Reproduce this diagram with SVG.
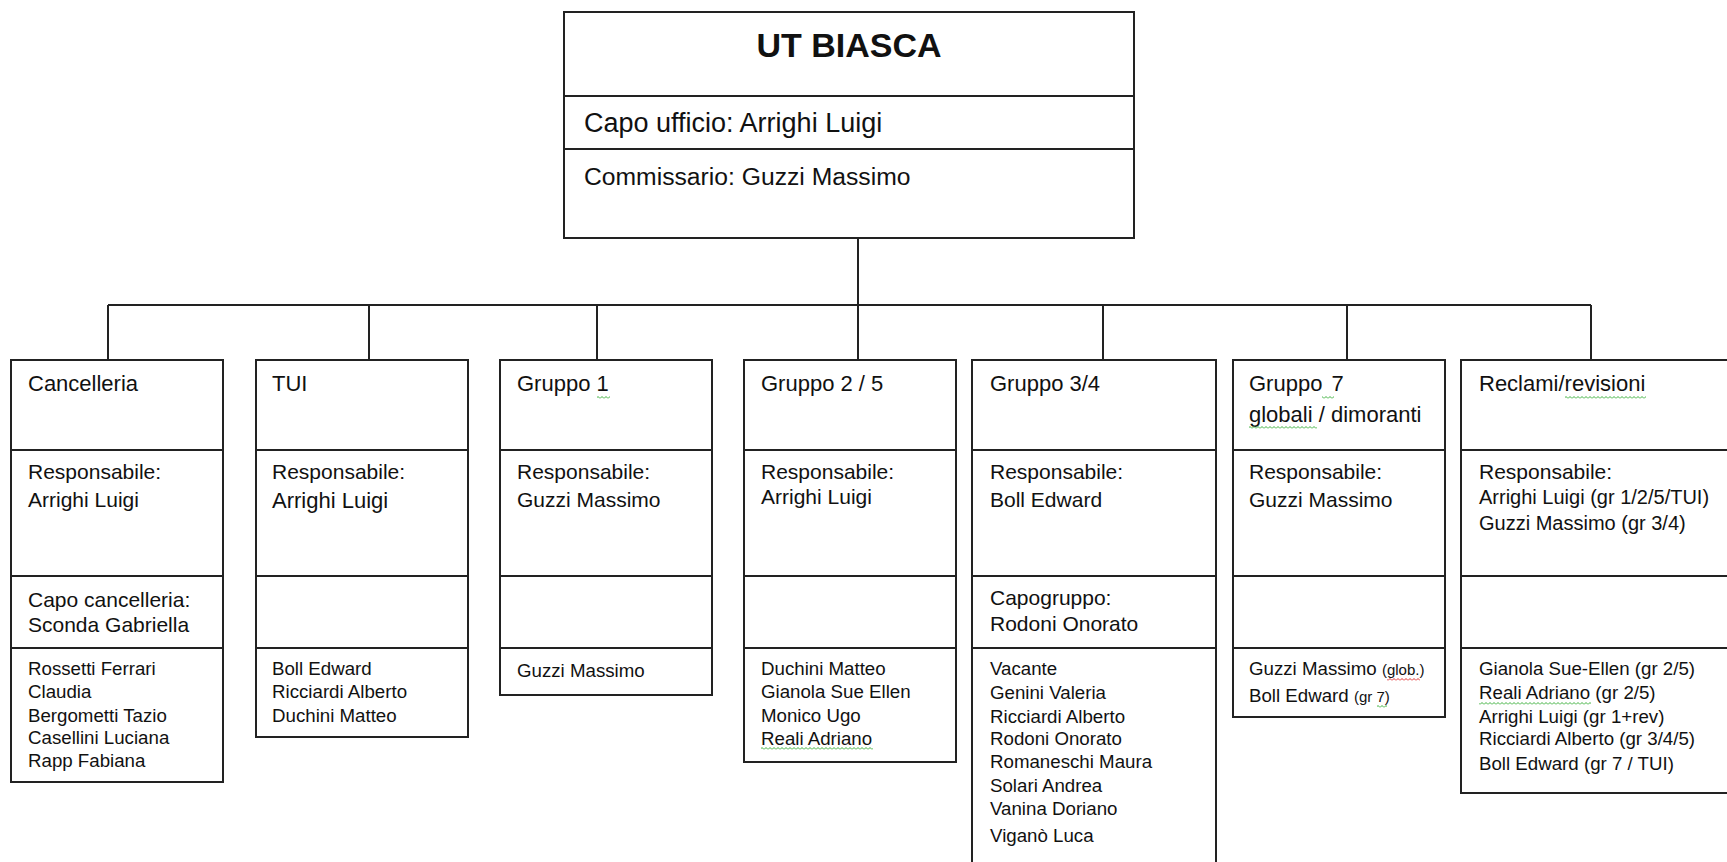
<svg xmlns="http://www.w3.org/2000/svg" width="1727" height="862" viewBox="0 0 1727 862">
<style>
.box{fill:#fff;stroke:#222;stroke-width:2}
.dv{stroke:#222;stroke-width:2}
.conn{fill:none;stroke:#222;stroke-width:2}
text{font-family:"Liberation Sans",Arial,sans-serif;fill:#111}
.h{font-size:22px}
.r{font-size:21px}
.l{font-size:18.7px}
.s{font-size:15px}
</style>
<defs>
<pattern id="sqG" width="4" height="3" patternUnits="userSpaceOnUse"><path d="M0 2.5 L2 0.5 L4 2.5" fill="none" stroke="#3cb03c" stroke-width="1"/></pattern>
<pattern id="sqR" width="4" height="3" patternUnits="userSpaceOnUse"><path d="M0 2.5 L2 0.5 L4 2.5" fill="none" stroke="#e03030" stroke-width="1"/></pattern>
</defs>
<rect width="1727" height="862" fill="#fff"/>

<g id="connectors">
<path class="conn" d="M858 239 V305 M108 305 H1591 M108 305 V360 M369 305 V360 M597 305 V360 M858 305 V360 M1103 305 V360 M1347 305 V360 M1591 305 V360"/>
</g>

<g id="ut-biasca">
<rect class="box" x="564" y="12" width="570" height="226"/>
<line class="dv" x1="564" y1="96" x2="1134" y2="96"/>
<line class="dv" x1="564" y1="149" x2="1134" y2="149"/>
<text x="849" y="57" font-size="34" font-weight="bold" text-anchor="middle">UT BIASCA</text>
<text x="584" y="132" font-size="27">Capo ufficio: Arrighi Luigi</text>
<text x="584" y="185" font-size="24.7">Commissario: Guzzi Massimo</text>
</g>

<g id="cancelleria">
<rect class="box" x="11" y="360" width="212" height="422"/>
<line class="dv" x1="11" y1="450" x2="223" y2="450"/>
<line class="dv" x1="11" y1="576" x2="223" y2="576"/>
<line class="dv" x1="11" y1="648" x2="223" y2="648"/>
<text class="h" x="28" y="391">Cancelleria</text>
<text class="r" x="28" y="479">Responsabile:</text>
<text class="r" x="28" y="507">Arrighi Luigi</text>
<text class="r" x="28" y="607">Capo cancelleria:</text>
<text class="r" x="28" y="632">Sconda Gabriella</text>
<text class="l" x="28" y="675">Rossetti Ferrari</text>
<text class="l" x="28" y="698">Claudia</text>
<text class="l" x="28" y="722">Bergometti Tazio</text>
<text class="l" x="28" y="744">Casellini Luciana</text>
<text class="l" x="28" y="767">Rapp Fabiana</text>
</g>

<g id="tui">
<rect class="box" x="256" y="360" width="212" height="377"/>
<line class="dv" x1="256" y1="450" x2="468" y2="450"/>
<line class="dv" x1="256" y1="576" x2="468" y2="576"/>
<line class="dv" x1="256" y1="648" x2="468" y2="648"/>
<text class="h" x="272" y="391">TUI</text>
<text class="r" x="272" y="479">Responsabile:</text>
<text x="272" y="508" font-size="22">Arrighi Luigi</text>
<text class="l" x="272" y="675">Boll Edward</text>
<text class="l" x="272" y="698">Ricciardi Alberto</text>
<text class="l" x="272" y="722">Duchini Matteo</text>
</g>

<g id="gruppo-1">
<rect class="box" x="500" y="360" width="212" height="335"/>
<line class="dv" x1="500" y1="450" x2="712" y2="450"/>
<line class="dv" x1="500" y1="576" x2="712" y2="576"/>
<line class="dv" x1="500" y1="648" x2="712" y2="648"/>
<text class="h" x="517" y="391">Gruppo 1</text>
<rect x="597" y="396" width="13" height="3" fill="url(#sqG)"/>
<text class="r" x="517" y="479">Responsabile:</text>
<text class="r" x="517" y="507">Guzzi Massimo</text>
<text class="l" x="517" y="677">Guzzi Massimo</text>
</g>

<g id="gruppo-2-5">
<rect class="box" x="744" y="360" width="212" height="402"/>
<line class="dv" x1="744" y1="450" x2="956" y2="450"/>
<line class="dv" x1="744" y1="576" x2="956" y2="576"/>
<line class="dv" x1="744" y1="648" x2="956" y2="648"/>
<text class="h" x="761" y="391">Gruppo 2 / 5</text>
<text class="r" x="761" y="479">Responsabile:</text>
<text class="r" x="761" y="504">Arrighi Luigi</text>
<text class="l" x="761" y="675">Duchini Matteo</text>
<text class="l" x="761" y="698">Gianola Sue Ellen</text>
<text class="l" x="761" y="722">Monico Ugo</text>
<text class="l" x="761" y="745">Reali Adriano</text>
<rect x="761" y="747" width="112" height="3" fill="url(#sqG)"/>
</g>

<g id="gruppo-3-4">
<rect class="box" x="972" y="360" width="244" height="520"/>
<line class="dv" x1="972" y1="450" x2="1216" y2="450"/>
<line class="dv" x1="972" y1="576" x2="1216" y2="576"/>
<line class="dv" x1="972" y1="648" x2="1216" y2="648"/>
<text class="h" x="990" y="391">Gruppo 3/4</text>
<text class="r" x="990" y="479">Responsabile:</text>
<text class="r" x="990" y="507">Boll Edward</text>
<text class="r" x="990" y="605">Capogruppo:</text>
<text class="r" x="990" y="631">Rodoni Onorato</text>
<text class="l" x="990" y="675">Vacante</text>
<text class="l" x="990" y="699">Genini Valeria</text>
<text class="l" x="990" y="723">Ricciardi Alberto</text>
<text class="l" x="990" y="745">Rodoni Onorato</text>
<text class="l" x="990" y="768">Romaneschi Maura</text>
<text class="l" x="990" y="792">Solari Andrea</text>
<text class="l" x="990" y="815">Vanina Doriano</text>
<text class="l" x="990" y="842">Viganò Luca</text>
</g>

<g id="gruppo-7">
<rect class="box" x="1233" y="360" width="212" height="357"/>
<line class="dv" x1="1233" y1="450" x2="1445" y2="450"/>
<line class="dv" x1="1233" y1="576" x2="1445" y2="576"/>
<line class="dv" x1="1233" y1="648" x2="1445" y2="648"/>
<text class="h" x="1249" y="391">Gruppo<tspan dx="3"> 7</tspan></text>
<rect x="1322" y="396" width="12" height="3" fill="url(#sqG)"/>
<text class="h" x="1249" y="422">globali / dimoranti</text>
<rect x="1249" y="426" width="68" height="3" fill="url(#sqG)"/>
<text class="r" x="1249" y="479">Responsabile:</text>
<text class="r" x="1249" y="507">Guzzi Massimo</text>
<text class="l" x="1249" y="675">Guzzi Massimo <tspan class="s">(glob.)</tspan></text>
<rect x="1387" y="678" width="33" height="3" fill="url(#sqR)"/>
<text class="l" x="1249" y="702">Boll Edward <tspan class="s">(gr 7)</tspan></text>
<rect x="1377" y="705" width="10" height="3" fill="url(#sqG)"/>
</g>

<g id="reclami-revisioni">
<rect class="box" x="1461" y="360" width="290" height="433"/>
<line class="dv" x1="1461" y1="450" x2="1751" y2="450"/>
<line class="dv" x1="1461" y1="576" x2="1751" y2="576"/>
<line class="dv" x1="1461" y1="648" x2="1751" y2="648"/>
<text class="h" x="1479" y="391">Reclami/revisioni</text>
<rect x="1565" y="396" width="81" height="3" fill="url(#sqG)"/>
<text class="r" x="1479" y="479">Responsabile:</text>
<text x="1479" y="504" font-size="20">Arrighi Luigi (gr 1/2/5/TUI)</text>
<text x="1479" y="530" font-size="20">Guzzi Massimo (gr 3/4)</text>
<text class="l" x="1479" y="675">Gianola Sue-Ellen (gr 2/5)</text>
<text class="l" x="1479" y="699">Reali Adriano (gr 2/5)</text>
<rect x="1479" y="702" width="112" height="3" fill="url(#sqG)"/>
<text class="l" x="1479" y="723">Arrighi Luigi (gr 1+rev)</text>
<text class="l" x="1479" y="745">Ricciardi Alberto (gr 3/4/5)</text>
<text class="l" x="1479" y="770">Boll Edward (gr 7 / TUI)</text>
</g>
</svg>
